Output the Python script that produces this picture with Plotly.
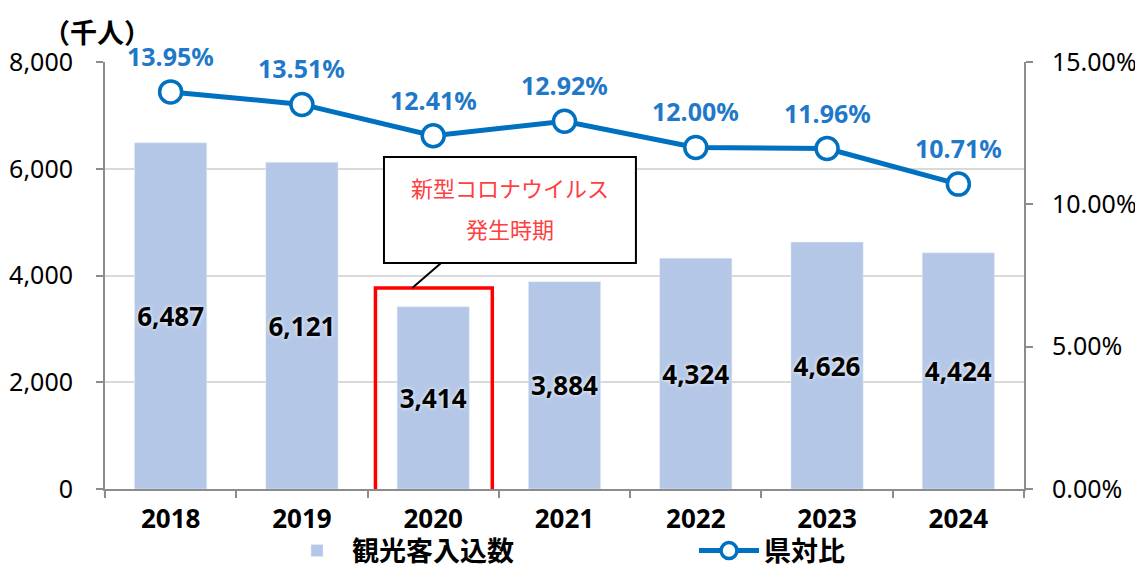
import plotly.graph_objects as go

years = ["2018", "2019", "2020", "2021", "2022", "2023", "2024"]
visitors = [6487, 6121, 3414, 3884, 4324, 4626, 4424]
ratio = [0.1395, 0.1351, 0.1241, 0.1292, 0.1200, 0.1196, 0.1071]
bar_name = "観光客入込数"
line_name = "県対比"
unit_label = "（千人）"
note_lines = ["新型コロナウイルス", "発生時期"]

FONT = "Noto Sans, Noto Sans CJK JP"
JFONT = "Noto Sans CJK JP"
BLUE = "#0070C0"
LBLUE = "#1F78C8"
BAR = "#B4C7E7"
AX = "#8C8C8C"

# page body has an 8px margin, so the figure is sized to the visible area
W, H = 1135, 561
OFF = 8

fig = go.Figure()
fig.add_trace(go.Bar(
    x=years, y=visitors, name=bar_name, marker_color=BAR,
    text=[f"{v:,}" for v in visitors], textposition="inside",
    insidetextanchor="middle", textangle=0, constraintext="none",
    textfont=dict(family=FONT, size=26, color="black", weight="bold",
                  shadow="0px 0px 4px white"),
    texttemplate="%{text}", cliponaxis=False, legend="legend",
))
fig.add_trace(go.Scatter(
    x=years, y=ratio, name=line_name, yaxis="y2", mode="lines+markers",
    line=dict(color=BLUE, width=5),
    marker=dict(size=22, color="white", line=dict(color=BLUE, width=3.5)),
    cliponaxis=False, legend="legend2",
))
for i, r in enumerate(ratio):
    fig.add_annotation(x=i, y=r, xref="x", yref="y2", yshift=36,
                       text=f"{r*100:.2f}%", showarrow=False,
                       font=dict(family=FONT, size=25, color=LBLUE, weight="bold"))

xtickfont = dict(family=FONT, size=26, color="black", weight="bold")
ytickfont = dict(family=FONT, size=25, color="black")
legfont = dict(family=JFONT, size=27, color="black", weight="bold")
fig.update_layout(
    width=W, height=H,
    margin=dict(l=105 - OFF, r=119, t=62 - OFF, b=80, autoexpand=False),
    plot_bgcolor="white", paper_bgcolor="white",
    bargap=0.45,
    showlegend=True,
    legend=dict(xref="container", yref="container", x=(282 - OFF) / W, xanchor="left",
                y=1 - (551 - OFF) / H, yanchor="middle", font=legfont,
                itemwidth=60, bgcolor="rgba(0,0,0,0)"),
    legend2=dict(xref="container", yref="container", x=(694 - OFF) / W, xanchor="left",
                 y=1 - (551 - OFF) / H, yanchor="middle", font=legfont,
                 itemwidth=60, bgcolor="rgba(0,0,0,0)"),
    xaxis=dict(type="category", range=[-0.5, len(years) - 0.5], autorange=False,
               showline=True, linecolor=AX, linewidth=2,
               ticks="outside", tickson="boundaries", ticklen=7, tickcolor=AX,
               tickwidth=2, tickfont=xtickfont, automargin=False, ticklabelstandoff=6),
    yaxis=dict(range=[0, 8000], dtick=2000, tickformat=",", showline=True,
               linecolor=AX, linewidth=2, ticks="outside", ticklen=7,
               tickcolor=AX, tickwidth=2, gridcolor="#d9d9d9", gridwidth=1.5,
               tickfont=ytickfont, zeroline=False, automargin=False,
               ticklabelstandoff=18),
    yaxis2=dict(range=[0, 0.15], dtick=0.05, tickformat=".2%", overlaying="y",
                side="right", showline=True, linecolor=AX, linewidth=2,
                ticks="outside", ticklen=7, tickcolor=AX, tickwidth=2,
                showgrid=False, tickfont=ytickfont, zeroline=False, automargin=False,
                ticklabelstandoff=14),
)

# unit label
fig.add_annotation(text=unit_label, xref="paper", yref="paper", x=(97 - 105) / 919, y=1.0,
                   yshift=31, xanchor="center", yanchor="middle", showarrow=False,
                   font=dict(family=JFONT, size=27, color="black", weight="bold"))

# red highlight box around 2020
fig.add_shape(type="rect", xref="x", yref="y", x0=1.56, x1=2.45, y0=-75, y1=3765,
              line=dict(color="#FF0000", width=3.5), fillcolor="rgba(0,0,0,0)",
              layer="above")
# callout connector
fig.add_shape(type="line", xref="x", yref="y", x0=2.06, y0=4234, x1=1.84, y1=3765,
              line=dict(color="black", width=2), layer="above")
# callout box
fig.add_shape(type="rect", xref="x", yref="y", x0=1.625, x1=3.544, y0=4234, y1=6220,
              line=dict(color="black", width=2), fillcolor="white", layer="above")
fig.add_annotation(text=note_lines[0], xref="x", yref="y", x=2.585, y=(489 - 187) / 0.05338,
                   showarrow=False, font=dict(family=JFONT, size=22, color="#FF4040"),
                   xanchor="center", yanchor="middle")
fig.add_annotation(text=note_lines[1], xref="x", yref="y", x=2.585, y=(489 - 228) / 0.05338,
                   showarrow=False, font=dict(family=JFONT, size=22, color="#FF4040"),
                   xanchor="center", yanchor="middle")

fig.write_html("out.html")
